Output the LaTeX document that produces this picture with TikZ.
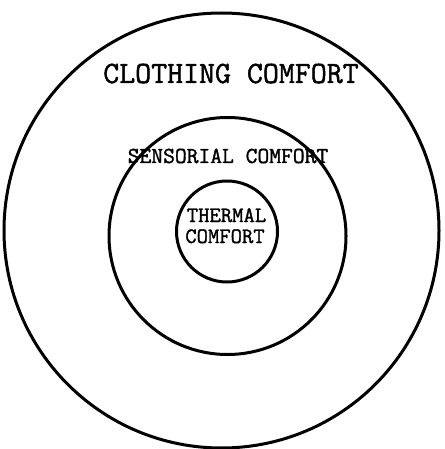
\documentclass[tikz,border=0pt]{standalone}
\usepackage{fontspec}
\newfontfamily\typew{Latin Modern Mono}[FakeBold=1.4]
\begin{document}
\begin{tikzpicture}[x=1pt,y=-1pt,
  ring/.style={draw=black,line width=3pt},
  lbl/.style={inner sep=0pt,anchor=base}]
\useasboundingbox (0,0) rectangle (444,449);
\node[ring,circle,minimum size=435pt,inner sep=0pt] (outer) at (221.5,230.5) {};
\node[ring,circle,minimum size=237pt,inner sep=0pt] (middle) at (227.5,236) {};
\node[ring,circle,minimum size=101pt,inner sep=0pt] (inner) at (227,231.5) {};
\node[lbl,font=\typew\fontsize{31}{34}\selectfont] (clothing) at (231,83) {CLOTHING COMFORT};
\node[lbl,font=\typew\fontsize{22.9}{26}\selectfont] (sensorial) at (228,163) {SENSORIAL COMFORT};
\node[lbl,font=\typew\fontsize{22}{24}\selectfont] (thermal) at (226.5,222) {THERMAL};
\node[lbl,font=\typew\fontsize{22}{24}\selectfont] (tcomfort) at (225,243) {COMFORT};
\end{tikzpicture}
\end{document}
